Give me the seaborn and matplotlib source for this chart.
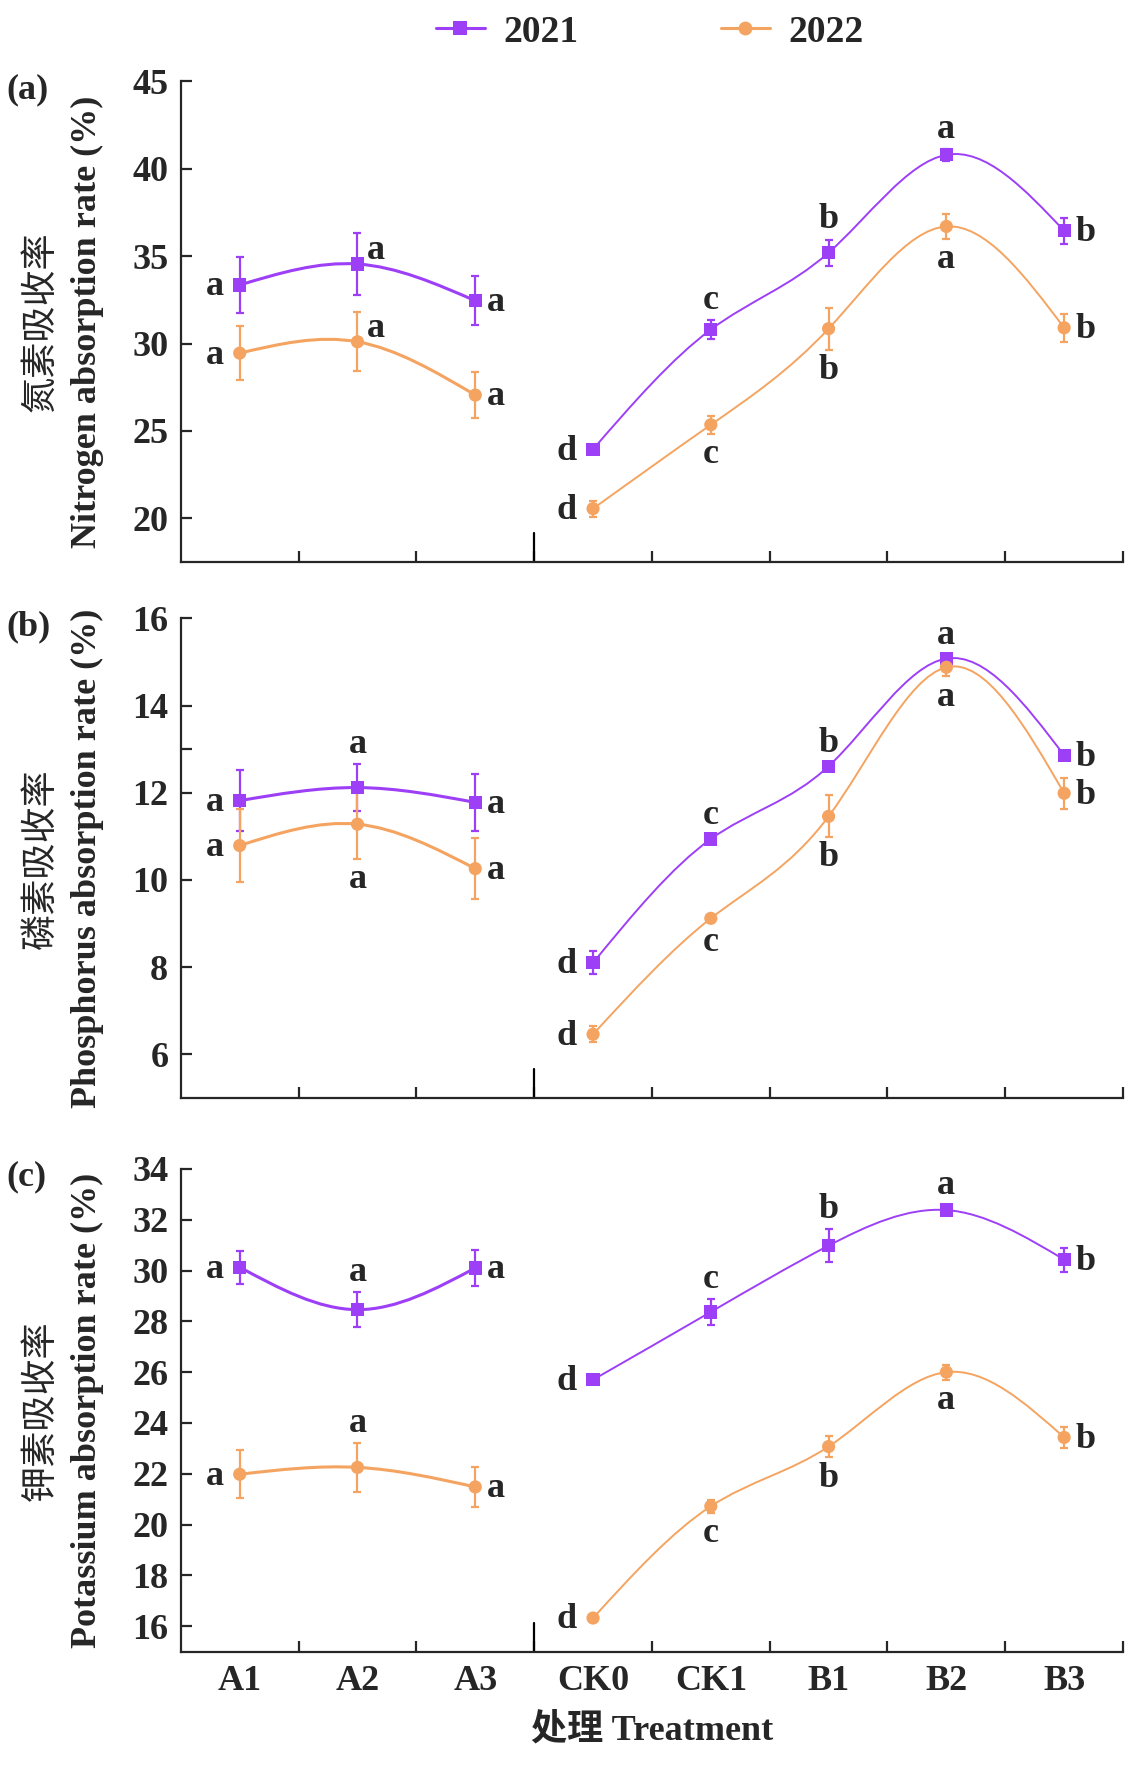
import numpy as np
import pandas as pd
import matplotlib
matplotlib.use('Agg')
import matplotlib.pyplot as plt
from matplotlib.path import Path
from matplotlib.patches import PathPatch
from matplotlib.lines import Line2D
import seaborn as sns

# ---- data ----
treatments = ['A1', 'A2', 'A3', 'CK0', 'CK1', 'B1', 'B2', 'B3']
years = ['2021', '2022']

# (a) nitrogen
n_2021 = [33.35, 34.55, 32.45, 23.95, 30.80, 35.20, 40.80, 36.45]
n_2021_err = [1.60, 1.75, 1.40, 0.25, 0.55, 0.75, 0.35, 0.75]
n_2022 = [29.45, 30.10, 27.05, 20.55, 25.35, 30.85, 36.70, 30.90]
n_2022_err = [1.55, 1.70, 1.30, 0.45, 0.50, 1.20, 0.70, 0.80]
n_let_2021 = ['a', 'a', 'a', 'd', 'c', 'b', 'a', 'b']
n_let_2022 = ['a', 'a', 'a', 'd', 'c', 'b', 'a', 'b']

# (b) phosphorus
p_2021 = [11.82, 12.12, 11.78, 8.10, 10.94, 12.61, 15.08, 12.86]
p_2021_err = [0.70, 0.54, 0.65, 0.26, 0.08, 0.08, 0.08, 0.10]
p_2022 = [10.79, 11.28, 10.26, 6.46, 9.12, 11.46, 14.88, 11.99]
p_2022_err = [0.83, 0.79, 0.70, 0.18, 0.08, 0.48, 0.21, 0.36]
p_let_2021 = ['a', 'a', 'a', 'd', 'c', 'b', 'a', 'b']
p_let_2022 = ['a', 'a', 'a', 'd', 'c', 'b', 'a', 'b']

# (c) potassium
k_2021 = [30.13, 28.46, 30.10, 25.70, 28.37, 30.98, 32.38, 30.43]
k_2021_err = [0.65, 0.68, 0.72, 0.12, 0.50, 0.65, 0.20, 0.47]
k_2022 = [21.98, 22.25, 21.48, 16.32, 20.72, 23.07, 26.00, 23.43]
k_2022_err = [0.95, 0.95, 0.80, 0.08, 0.25, 0.43, 0.30, 0.40]
k_let_2021 = ['a', 'a', 'a', 'd', 'c', 'b', 'a', 'b']
k_let_2022 = ['a', 'a', 'a', 'd', 'c', 'b', 'a', 'b']

# where each letter sits relative to its point (l, r, ur, t, b)
n_pos_2021 = ['l', 'ur', 'r', 'l', 't', 't', 't', 'r']
n_pos_2022 = ['l', 'ur', 'r', 'l', 'b', 'b', 'b', 'r']
p_pos_2021 = ['l', 't', 'r', 'l', 't', 't', 't', 'r']
p_pos_2022 = ['l', 'b', 'r', 'l', 'b', 'b', 'b', 'r']
k_pos_2021 = ['l', 't', 'r', 'l', 't', 't', 't', 'r']
k_pos_2022 = ['l', 't', 'r', 'l', 'b', 'b', 'b', 'r']

colors = {'2021': '#9D3FF7', '2022': '#F4A460'}
markers = {'2021': 's', '2022': 'o'}

sns.set_theme(style='ticks')
plt.rcParams['font.family'] = ['Liberation Serif', 'Noto Sans CJK SC', 'DejaVu Sans']
plt.rcParams['mathtext.fontset'] = 'custom'
plt.rcParams['axes.linewidth'] = 1.6


def spline_path(xs, ys):
    # natural cubic spline through the points, written as bezier segments
    xs = np.asarray(xs, float)
    ys = np.asarray(ys, float)
    n = len(xs)
    h = np.diff(xs)
    A = np.zeros((n, n))
    rhs = np.zeros(n)
    A[0, 0] = A[-1, -1] = 1
    for i in range(1, n - 1):
        A[i, i - 1] = h[i - 1]
        A[i, i] = 2 * (h[i - 1] + h[i])
        A[i, i + 1] = h[i]
        rhs[i] = 6 * ((ys[i + 1] - ys[i]) / h[i] - (ys[i] - ys[i - 1]) / h[i - 1])
    M = np.linalg.solve(A, rhs)
    verts = [(xs[0], ys[0])]
    codes = [Path.MOVETO]
    for i in range(n - 1):
        s = (ys[i + 1] - ys[i]) / h[i]
        d0 = s - h[i] * (2 * M[i] + M[i + 1]) / 6
        d1 = s + h[i] * (M[i] + 2 * M[i + 1]) / 6
        verts += [(xs[i] + h[i] / 3, ys[i] + d0 * h[i] / 3),
                  (xs[i + 1] - h[i] / 3, ys[i + 1] - d1 * h[i] / 3),
                  (xs[i + 1], ys[i + 1])]
        codes += [Path.CURVE4] * 3
    return Path(verts, codes)


def put_letters(ax, vals, errs, letters, pos):
    for i, (v, e, t, p) in enumerate(zip(vals, errs, letters, pos)):
        kw = dict(fontsize=26, fontweight='bold', textcoords='offset points',
                  annotation_clip=False)
        if p == 'l':
            ax.annotate(t, (i, v), xytext=(-11.5, -7.5), ha='right', va='baseline', **kw)
        elif p == 'r':
            ax.annotate(t, (i, v), xytext=(8.5, -7.5), ha='left', va='baseline', **kw)
        elif p == 'ur':
            ax.annotate(t, (i, v), xytext=(7, 3.5), ha='left', va='baseline', **kw)
        elif p == 't':
            ax.annotate(t, (i, v + e), xytext=(0, 8), ha='center', va='baseline', **kw)
        else:
            ax.annotate(t, (i, v - e), xytext=(0, -3), ha='center', va='top', **kw)


def draw_panel(ax, series, ylim, yticks, extra_ticks, cn_label, en_label, tag, show_x):
    x = np.arange(len(treatments))
    rows = []
    for yr, (vals, errs, lets, pos) in series.items():
        for i, t in enumerate(treatments):
            rows.append({'treatment': t, 'x': i, 'year': yr, 'value': vals[i], 'err': errs[i]})
        # smooth connecting curves, one for each treatment group
        for idx, lw in ((slice(0, 3), 2.2), (slice(3, 8), 1.4)):
            path = spline_path(x[idx], np.asarray(vals)[idx])
            ax.add_patch(PathPatch(path, fill=False, edgecolor=colors[yr], lw=lw, zorder=2))
        ax.errorbar(x, vals, yerr=errs, fmt='none', ecolor=colors[yr],
                    elinewidth=1.6, capsize=3.2, capthick=1.6, zorder=3)
        put_letters(ax, vals, errs, lets, pos)
    df = pd.DataFrame(rows)
    sns.scatterplot(data=df, x='x', y='value', hue='year', style='year',
                    palette=colors, markers=markers, s=90, linewidth=0,
                    legend=False, zorder=4, ax=ax)

    ax.set_xlim(-0.5, len(treatments) - 0.5)
    ax.set_ylim(*ylim)
    ax.set_yticks(yticks)
    ax.set_yticks(extra_ticks, minor=True)
    ax.tick_params(axis='y', which='both', direction='in', length=8, width=1.6,
                   labelsize=26, pad=9)
    ax.tick_params(axis='y', which='minor', length=8)
    for lab in ax.get_yticklabels():
        lab.set_fontweight('bold')

    # boundaries between treatments carry the ticks, labels sit at centres
    ax.set_xticks(np.arange(0.5, len(treatments), 1.0))
    ax.set_xticklabels([])
    ax.tick_params(axis='x', which='major', direction='in', length=8, width=1.6)
    ax.set_xticks(x, minor=True)
    if show_x:
        ax.set_xticklabels(treatments, minor=True, fontsize=26, fontweight='bold')
    else:
        ax.set_xticklabels([], minor=True)
    ax.tick_params(axis='x', which='minor', length=0, pad=10)
    # longer mark separating the two groups
    ax.axvline(2.5, ymin=0, ymax=0.06, color='black', lw=1.6, zorder=1)

    sns.despine(ax=ax)
    ax.set_xlabel('')
    ax.set_ylabel('')
    ax.text(-0.0995, 0.5, en_label, transform=ax.transAxes, rotation=90,
            ha='center', va='center', fontsize=26, fontweight='bold')
    ax.text(-0.149, 0.5, cn_label, transform=ax.transAxes, rotation=90,
            ha='center', va='center', fontsize=26,
            family=['Noto Sans CJK SC', 'Liberation Serif'])
    top = ax.get_position().y1
    ax.figure.text(0.006, top + 8.5 / 1766, tag, ha='left', va='top',
                   fontsize=26, fontweight='bold')


fig = plt.figure(figsize=(11.28, 17.66), dpi=100)
left, width = 0.1603, 0.8353
ax_a = fig.add_axes([left, 0.6818, width, 0.2721])
ax_b = fig.add_axes([left, 0.3783, width, 0.2715])
ax_c = fig.add_axes([left, 0.0648, width, 0.2733])

draw_panel(ax_a,
           {'2021': (n_2021, n_2021_err, n_let_2021, n_pos_2021),
            '2022': (n_2022, n_2022_err, n_let_2022, n_pos_2022)},
           (17.5, 45), [20, 25, 30, 35, 40, 45], [],
           '氮素吸收率', 'Nitrogen absorption rate (%)', '(a)', False)
draw_panel(ax_b,
           {'2021': (p_2021, p_2021_err, p_let_2021, p_pos_2021),
            '2022': (p_2022, p_2022_err, p_let_2022, p_pos_2022)},
           (5, 16), [6, 8, 10, 12, 14, 16], [13],
           '磷素吸收率', 'Phosphorus absorption rate (%)', '(b)', False)
draw_panel(ax_c,
           {'2021': (k_2021, k_2021_err, k_let_2021, k_pos_2021),
            '2022': (k_2022, k_2022_err, k_let_2022, k_pos_2022)},
           (15, 34), list(range(16, 35, 2)), [],
           '钾素吸收率', 'Potassium absorption rate (%)', '(c)', True)

ax_c.text(0.5, -0.1625, '处理 Treatment', transform=ax_c.transAxes,
          ha='center', va='center', fontsize=26, fontweight='bold',
          family=['Liberation Serif', 'Noto Sans CJK SC'])

handles = [Line2D([], [], color=colors[y], marker=markers[y], markersize=10,
                  lw=2.2, markeredgewidth=0) for y in years]
fig.legend(handles, years, loc='center', bbox_to_anchor=(0.576, 1 - 32 / 1766),
           ncol=2, frameon=False, handlelength=1.3, handletextpad=0.5,
           columnspacing=3.8, prop={'size': 27, 'weight': 'bold'})

fig.savefig('out.png', dpi=100)
